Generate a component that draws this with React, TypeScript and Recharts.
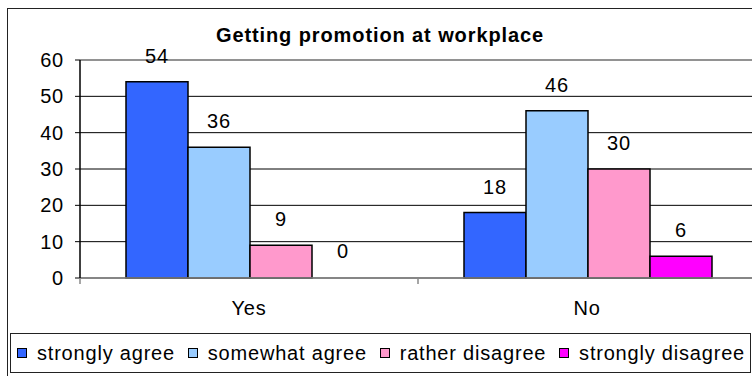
import React from 'react';
import { BarChart, Bar, XAxis, YAxis, CartesianGrid, LabelList, ReferenceLine, Legend, Cell } from 'recharts';

const categories = ['Yes', 'No'];
const stronglyAgree = [54, 18];
const somewhatAgree = [36, 46];
const ratherDisagree = [9, 30];
const stronglyDisagree = [0, 6];
const yTicks = [0, 10, 20, 30, 40, 50, 60];

const series = [
  { key: 'stronglyAgree', name: 'strongly agree', color: '#3366FF', values: stronglyAgree },
  { key: 'somewhatAgree', name: 'somewhat agree', color: '#99CCFF', values: somewhatAgree },
  { key: 'ratherDisagree', name: 'rather disagree', color: '#FF99CC', values: ratherDisagree },
  { key: 'stronglyDisagree', name: 'strongly disagree', color: '#FF00FF', values: stronglyDisagree },
];

const data = categories.map((name, i) => {
  const row: Record<string, string | number> = { name };
  series.forEach((s) => { row[s.key] = s.values[i]; });
  return row;
});

const FONT = '"Liberation Sans", Arial, sans-serif';
const TEXT_STYLE = { letterSpacing: '0.8px' };

const XTick = (props: any) => {
  const { x, y, payload, index } = props;
  const half = payload.offset || 0;
  return (
    <g>
      <line x1={x - half} y1={y} x2={x - half} y2={y + 6} stroke="#888" strokeWidth={1.5} />
      {index === categories.length - 1 && (
        <line x1={x + half} y1={y} x2={x + half} y2={y + 6} stroke="#888" strokeWidth={1.5} />
      )}
      <text x={x} y={y + 37} textAnchor="middle" fill="#000" fontSize={20} fontFamily={FONT} style={TEXT_STYLE}>
        {payload.value}
      </text>
    </g>
  );
};

// value label drawn above each bar
const renderValue = (props: any) => {
  const { x, y, width, value } = props;
  return (
    <text x={x + width / 2} y={y - 19} textAnchor="middle" fill="#000" fontSize={20} fontFamily={FONT} style={TEXT_STYLE}>
      {String(value)}
    </text>
  );
};

// a 0 bar gets 1px so its label is still placed, the bar itself stays invisible
const zeroMinSize = (v: number) => (v === 0 ? 1 : 0);

const LegendBox = () => (
  <div style={{ display: 'flex', justifyContent: 'space-between', alignItems: 'center', width: 728, fontFamily: FONT, fontSize: 20, color: '#000', whiteSpace: 'nowrap', ...TEXT_STYLE }}>
    {series.map((s) => (
      <span key={s.key} style={{ display: 'inline-flex', alignItems: 'center' }}>
        <span style={{ width: 10, height: 10, background: s.color, border: '1.5px solid #000', boxSizing: 'border-box', marginRight: 10, display: 'inline-block' }} />
        {s.name}
      </span>
    ))}
  </div>
);

export default function App() {
  return (
    <div style={{ position: 'absolute', left: 0, top: 0, width: 752, height: 376, overflow: 'hidden', background: '#fff' }}>
      <div style={{ position: 'absolute', left: 7, top: 8, width: 800, height: 400, border: '1.5px solid #222', boxSizing: 'border-box' }} />
      <div style={{ position: 'absolute', left: 10, top: 333, width: 741, height: 40, border: '1px solid #222', boxSizing: 'border-box' }} />
      <div style={{ position: 'absolute', left: 0, top: 24, width: 760, lineHeight: '23px', textAlign: 'center', fontFamily: FONT, fontWeight: 'bold', fontSize: 20, letterSpacing: '0.9px', color: '#000' }}>
        Getting promotion at workplace
      </div>
      <div style={{ position: 'absolute', left: 0, top: 0 }}>
        <BarChart
          width={800}
          height={376}
          data={data}
          margin={{ top: 60, right: 44, bottom: 58, left: 0 }}
          barCategoryGap={46}
          barGap={0}
        >
          <CartesianGrid vertical={false} stroke="#000" strokeWidth={1} />
          <ReferenceLine y={60} stroke="#999" strokeWidth={1.5} />
          <XAxis
            dataKey="name"
            axisLine={{ stroke: '#888', strokeWidth: 1.5 }}
            tickLine={false}
            tickSize={0}
            tickMargin={0}
            tick={<XTick />}
            height={40}
            interval={0}
          />
          <YAxis
            width={80}
            domain={[0, 60]}
            ticks={yTicks}
            interval={0}
            axisLine={{ stroke: '#000', strokeWidth: 1.5 }}
            tickLine={{ stroke: '#000' }}
            tickSize={5}
            tickMargin={11}
            tick={{ fill: '#000', fontSize: 20, fontFamily: FONT, style: TEXT_STYLE }}
          />
          <Legend
            layout="horizontal"
            verticalAlign="middle"
            align="center"
            content={<LegendBox />}
            wrapperStyle={{ position: 'absolute', top: 333, left: 17, width: 728, height: 40, display: 'flex', alignItems: 'center' }}
          />
          {series.map((s) => (
            <Bar key={s.key} dataKey={s.key} name={s.name} fill={s.color} stroke="#000" strokeWidth={1.5} minPointSize={zeroMinSize} isAnimationActive={false}>
              {s.values.map((v, i) => (
                <Cell key={`cell-${i}`} fill={v === 0 ? 'none' : s.color} stroke={v === 0 ? 'none' : '#000'} />
              ))}
              <LabelList dataKey={s.key} content={renderValue} />
            </Bar>
          ))}
        </BarChart>
      </div>
    </div>
  );
}
